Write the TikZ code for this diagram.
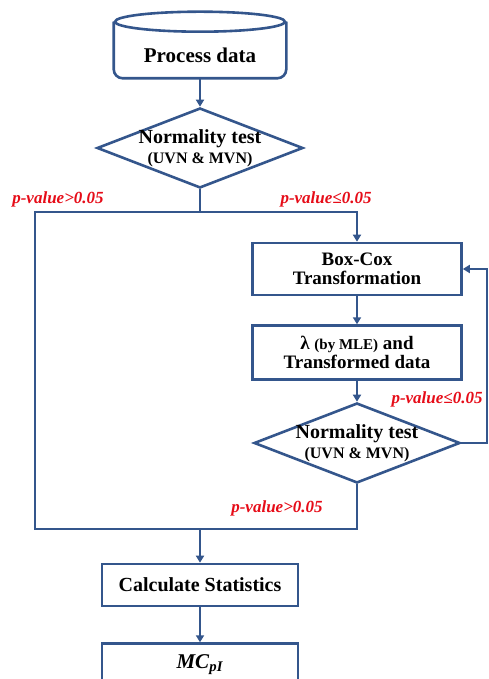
\documentclass[tikz,border=0pt]{standalone}
\usepackage{fontspec}
\setmainfont{Liberation Serif}
\usetikzlibrary{arrows.meta,positioning,shapes.geometric,calc}
\definecolor{fcedge}{RGB}{52,86,140}
\definecolor{fcred}{RGB}{230,12,24}
\tikzset{
  fcbox/.style={
    draw=fcedge, line width=2.6pt, fill=white, align=center,
    font=\bfseries\fontsize{19pt}{19.5pt}\selectfont, inner sep=2pt,
    minimum width=209pt
  },
  dec/.style={
    diamond, draw=fcedge, line width=2.6pt, fill=white,
    minimum width=206pt, minimum height=80pt, inner sep=0pt
  },
  dectxt/.style={align=center, font=\bfseries\fontsize{20pt}{20pt}\selectfont, inner sep=0pt},
  arr/.style={-{Triangle[length=7pt,width=8pt]}, draw=fcedge, line width=2.2pt},
  wire/.style={draw=fcedge, line width=2.2pt},
  pval/.style={text=fcred, font=\bfseries\itshape\fontsize{17pt}{17pt}\selectfont, inner sep=0pt}
}

\begin{document}
\begin{tikzpicture}[x=1pt,y=1pt]
  \useasboundingbox (0,0) rectangle (488,679);
  % data store on top
  \node[fcbox, draw=none, fill=none, minimum width=170pt, minimum height=44pt,
    font=\bfseries\fontsize{21pt}{21pt}\selectfont] (proc) at (200,624) {Process data};
  \draw[wire, line width=2.6pt, rounded corners=9pt] ($(proc.north west)+(0,10)$) -- (proc.south west)
    -- (proc.south east) -- ($(proc.north east)+(0,10)$);
  \draw[wire, line width=2.6pt] ($(proc.north)+(0,10)$) ellipse [x radius=85, y radius=10];

  \node[dec] (test1) at (200,531) {};
  \node[dectxt] (test1txt) at (test1.center) {Normality test\\{\fontsize{16pt}{16pt}\selectfont (UVN \& MVN)}};

  % right branch
  \node[fcbox, minimum height=52pt] (boxcox) at (357,410) {Box-Cox\\Transformation};
  \node[fcbox, minimum height=54pt, below=28pt of boxcox] (lam)
    {λ {\fontsize{15pt}{18pt}\selectfont (by MLE)} and\\Transformed data};
  \node[dec] (test2) at (357,236) {};
  \node[dectxt] (test2txt) at (test2.center) {Normality test\\{\fontsize{16pt}{16pt}\selectfont (UVN \& MVN)}};

  % bottom
  \node[fcbox, minimum width=196pt, minimum height=42pt, font=\bfseries\fontsize{20pt}{20pt}\selectfont] (calc) at (200,94) {Calculate Statistics};
  \node[fcbox, minimum width=196pt, minimum height=42pt, below=35pt of calc,
    font=\bfseries\fontsize{21pt}{21pt}\selectfont] (mc)
    {\textit{MC}\textsubscript{\textit{pI}}};

  \coordinate (split) at (200,467);
  \coordinate (leftup) at (35,467);
  \coordinate (merge) at (200,150);

  \draw[arr] (proc.south) -- (test1.north);
  \draw[wire] (test1.south) -- (split);
  \draw[arr] (split) -| (boxcox.north);
  \draw[wire] (split) -- (leftup) |- (merge) -| (test2.south);
  \draw[arr] (boxcox) -- (lam);
  \draw[arr] (lam) -- (test2);
  \draw[arr] (test2.east) -- ++(26,0) |- (boxcox.east);
  \draw[arr] (merge) -- (calc.north);
  \draw[arr] (calc) -- (mc);

  \node[pval] (pv1) at (58,480) {p-value>0.05};
  \node[pval] (pv2) at (326,480) {p-value≤0.05};
  \node[pval] (pv3) at (437,280) {p-value≤0.05};
  \node[pval] (pv4) at (277,171) {p-value>0.05};
\end{tikzpicture}
\end{document}
